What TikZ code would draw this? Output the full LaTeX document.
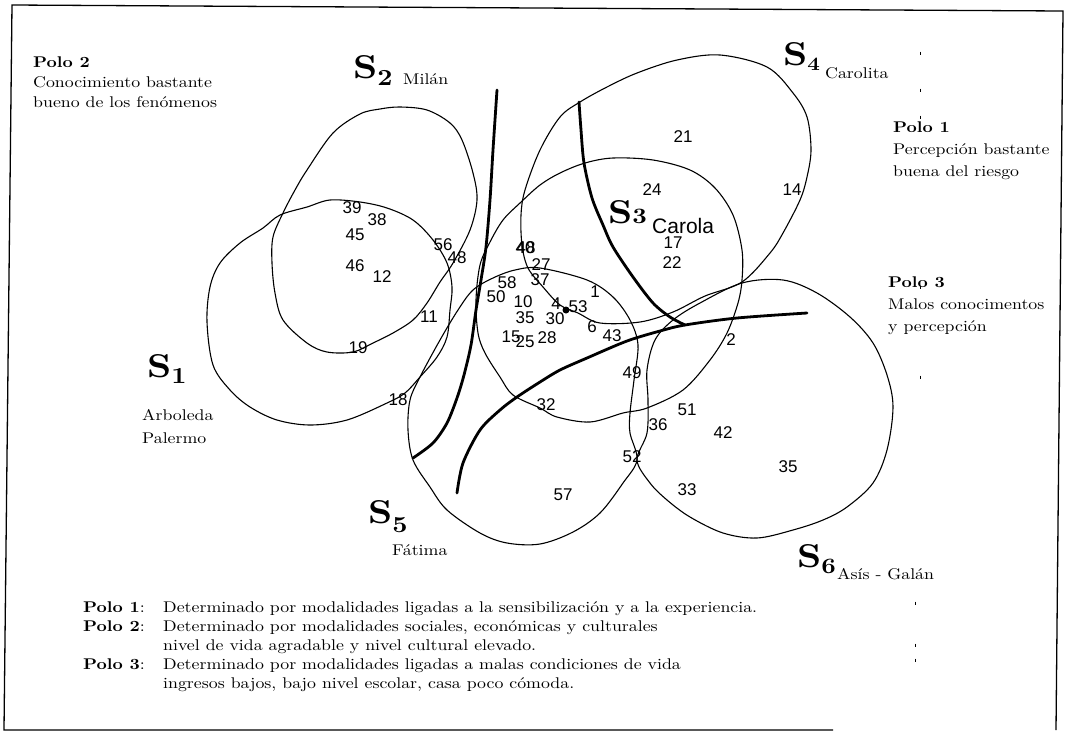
\documentclass[tikz,border=0pt]{standalone}
\usepackage{fontspec}
\setmainfont{lmroman10-regular.otf}[BoldFont=lmroman10-bold.otf,FakeStretch=1.15]
\newfontfamily\numfont{Liberation Sans}
\tikzset{zona/.style={draw=black,line width=1.1pt,line join=round},polo/.style={draw=black,line width=2.8pt,line cap=round},txt/.style={inner sep=0pt,font=\fontsize{15.5}{20}\selectfont,align=left},num/.style={inner sep=0pt,font=\numfont\fontsize{17}{17}\selectfont},sname/.style={inner sep=0pt,anchor=base west,font=\fontsize{33}{33}\selectfont\bfseries}}
\newcommand\subidx[3]{\raisebox{#1}{\fontsize{#2}{#2}\selectfont #3}}

\begin{document}
\begin{tikzpicture}[x=1pt,y=-1pt]
\useasboundingbox (0,0) rectangle (1071,732);
% marco
\draw[line width=1.3pt] (833,730) -- (4,730) -- (12,5) -- (1063,11) -- (1056,730);
\foreach \x/\y in {920/53,920/90,920/117,920/287,920/377,915/603,915/645,915/660}
  \draw[line width=0.8pt] (\x,\y-1.5) -- (\x,\y+1.5);
% zonas
\draw[zona] plot[smooth cycle,tension=0.55] coordinates {(207,322) (210,287) (220,263) (240,243) (263,228) (280,215) (307,207) (330,200) (360,202) (387,208) (413,220) (433,240) (447,263) (452,287) (450,310) (447,337) (437,357) (420,377) (405,393) (387,403) (347,420) (310,425) (277,420) (250,407) (230,390) (213,365)};
\draw[zona] plot[smooth cycle,tension=0.55] coordinates {(400,107) (427,110) (450,123) (462,140) (473,173) (477,200) (470,230) (453,263) (440,282) (427,303) (413,320) (393,333) (373,343) (353,352) (327,352) (307,343) (283,320) (275,293) (272,263) (273,237) (283,213) (295,190) (307,170) (333,133) (360,114) (380,109)};
\draw[zona] plot[smooth cycle,tension=0.55] coordinates {(613,158) (653,160) (690,170) (715,188) (733,215) (742,250) (742,280) (738,303) (727,333) (710,360) (683,390) (647,408) (623,413) (590,422) (557,417) (540,408) (513,395) (500,377) (485,353) (478,333) (476,300) (480,265) (490,242) (503,220) (520,203) (540,185) (560,173) (585,163)};
\draw[zona] plot[smooth cycle,tension=0.55] coordinates {(580,102) (607,87) (637,73) (677,60) (720,55) (767,67) (793,93) (807,117) (811,150) (807,177) (800,200) (783,233) (770,253) (742,282) (705,296) (673,312) (640,322) (600,323) (578,313) (560,305) (543,287) (528,268) (522,245) (521,215) (525,190) (540,150) (560,117)};
\draw[zona] plot[smooth cycle,tension=0.55] coordinates {(540,268) (587,280) (613,297) (630,320) (638,345) (634,380) (630,413) (630,433) (637,460) (623,483) (600,513) (573,532) (540,544) (507,543) (480,533) (447,510) (430,487) (413,460) (408,430) (410,400) (420,377) (440,340) (458,310) (473,290) (493,278) (515,270)};
\draw[zona] plot[smooth cycle,tension=0.55] coordinates {(637,460) (647,433) (648,400) (647,370) (655,340) (673,320) (700,303) (742,283) (783,280) (817,293) (850,317) (873,343) (887,375) (893,407) (887,450) (873,483) (847,507) (823,520) (793,530) (757,538) (723,533) (690,517) (667,500) (650,483)};
% separaciones de los polos
\draw[polo] plot[smooth] coordinates {(497,90) (493,150) (490,200) (486,247) (481,280) (476,310) (471,345) (464,375) (457,398) (447,423) (433,443) (413,458)};
\draw[polo] plot[smooth] coordinates {(579,102) (581,130) (584,163) (592,198) (603,225) (613,247) (633,277) (653,303) (670,317) (685,325)};
\draw[polo] plot[smooth] coordinates {(457,493) (463,463) (480,430) (500,410) (517,397) (540,382) (560,370) (587,358) (627,341) (660,331) (685,325) (737,318) (807,313)};
\fill (566,310) circle (3.5);
% casos
\foreach \x/\y/\lab [count=\i] in {683/137/21,652/190/24,792/190/14,673/243/17,672/263/22,352/208/39,377/220/38,355/235/45,355/266/46,382/277/12,358/348/19,429/317/11,398/400/18,443/245/56,457/258/48,525/248/40,526/248/48,541/265/27,540/280/37,507/283/58,496/297/50,523/302/10,525/318/35,555/319/30,556/304/4,578/307/53,595/292/1,592/327/6,612/336/43,511/337/15,525/342/25,547/338/28,632/373/49,546/405/32,731/340/2,658/425/36,687/410/51,723/433/42,788/467/35,687/490/33,632/457/52,563/495/57}
  \node[num] (c\i) at (\x,\y) {\lab};
% sectores
\node[sname] (s1) at (147,377) {S\subidx{-6pt}{23}{1}};
\node[txt,anchor=base west] (s1a) at (142,420) {Arboleda};
\node[txt,anchor=base west] (s1b) at (142,443) {Palermo};
\node[sname] (s2) at (353,78) {S\subidx{-7pt}{23}{2}};
\node[txt,anchor=base west] (s2a) at (403,84) {Milán};
\node[sname] (s3) at (608,223) {S\subidx{0pt}{22}{3}};
\node[num,anchor=base west,font=\numfont\fontsize{21}{21}\selectfont] (s3a) at (652,233) {Carola};
\node[sname] (s4) at (783,65) {S\subidx{-5pt}{19}{4}};
\node[txt,anchor=base west] (s4a) at (825,78) {Carolita};
\node[sname] (s5) at (368,523) {S\subidx{-9pt}{23}{5}};
\node[txt,anchor=base west] (s5a) at (392,555) {Fátima};
\node[sname] (s6) at (797,567) {S\subidx{-6pt}{22}{6}};
\node[txt,anchor=base west] (s6a) at (837,579) {Asís - Galán};
% polos
\node[txt,anchor=north west] (polo2) at (33,57) {\textbf{Polo 2}\\Conocimiento bastante\\bueno de los fenómenos};
\node[txt,anchor=north west,font=\fontsize{15.5}{22}\selectfont] (polo1) at (893,122) {\textbf{Polo 1}\\Percepción bastante\\buena del riesgo};
\node[txt,anchor=north west,font=\fontsize{15.5}{22}\selectfont] (polo3) at (888,277) {\textbf{Polo 3}\\Malos conocimentos\\y percepción};
% leyenda
\node[txt,anchor=base west] (l1) at (83,612) {\textbf{Polo 1}:};
\node[txt,anchor=base west] (d1) at (163,612) {Determinado por modalidades ligadas a la sensibilización y a la experiencia.};
\node[txt,anchor=base west] (l2) at (83,631) {\textbf{Polo 2}:};
\node[txt,anchor=base west] (d2) at (163,631) {Determinado por modalidades sociales, económicas y culturales};
\node[txt,anchor=base west] (d2b) at (163,650) {nivel de vida agradable y nivel cultural elevado.};
\node[txt,anchor=base west] (l3) at (83,669) {\textbf{Polo 3}:};
\node[txt,anchor=base west] (d3) at (163,669) {Determinado por modalidades ligadas a malas condiciones de vida};
\node[txt,anchor=base west] (d3b) at (163,688) {ingresos bajos, bajo nivel escolar, casa poco cómoda.};
\end{tikzpicture}
\end{document}
